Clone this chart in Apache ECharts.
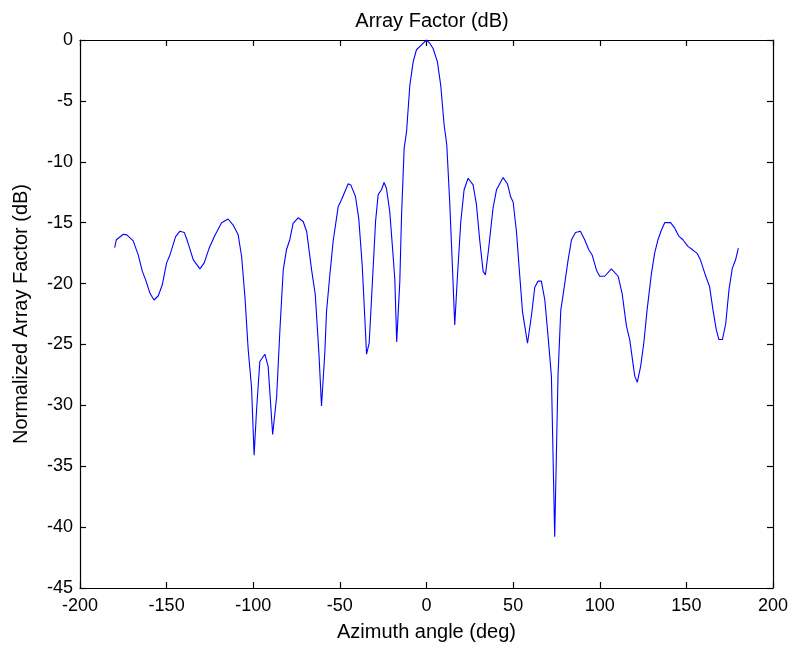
<!DOCTYPE html>
<html>
<head>
<meta charset="utf-8">
<style>
  html, body { margin: 0; padding: 0; background: #fff; }
  #chart { width: 796px; height: 649px; }
</style>
<script src="https://cdn.jsdelivr.net/npm/echarts@6/dist/echarts.min.js"></script>
</head>
<body>
<div id="chart"></div>
<script>
// Azimuth angle (deg) of each sample
const azimuthDeg = [
  -180, -179, -175, -173, -169.3, -166.4, -164, -162.1, -159.6, -157.3,
  -154.8, -152.5, -150, -148.1, -144.8, -142.3, -139.8, -137.9, -134.6, -130.8,
  -128.3, -125.6, -122.3, -118.3, -114.5, -111.6, -108.7, -106.7, -104.8, -102.9,
  -101, -99.5, -98.1, -96.2, -93.3, -91.4, -90, -88.8, -86.5, -84.6,
  -82.7, -80.8, -78.9, -77, -74.1, -71.2, -69.2, -66.3, -64.2, -62.1,
  -60.6, -58.7, -57.7, -55.8, -53.9, -51, -49, -45.2, -43.7, -41,
  -39.1, -37.1, -35.6, -34.6, -33.1, -30.8, -29.4, -27.9, -26, -24.5,
  -23.1, -21.2, -19.6, -18.3, -17.2, -15.4, -14.4, -12.9, -11.5, -9.6,
  -7.7, -5.8, -2.9, 0, 1.9, 3.8, 6.3, 8.2, 10.2, 11.7,
  13.4, 15, 16.3, 17.9, 19.8, 21.7, 24, 26.9, 28.8, 30.8,
  32.7, 34, 35.9, 38.4, 40.4, 44.2, 46.7, 48.6, 50, 51.9,
  53.8, 55.4, 58.3, 60.6, 62.5, 64.4, 66.3, 68.3, 70.2, 72.1,
  74, 75.9, 77.5, 79.8, 81.7, 83.7, 86, 88.8, 91.3, 93.6,
  95.6, 98.1, 100, 102.9, 106.7, 110.6, 112.9, 115.4, 117.3, 120.2,
  121.7, 123.6, 125.5, 127.3, 129.8, 131.7, 133.6, 135.6, 137.5, 140.9,
  143.3, 145.6, 148, 150.9, 153.8, 156.1, 158.1, 160.6, 163.4, 165.4,
  167.3, 168.8, 170.8, 172.7, 174.6, 176.5, 178.4, 180
];

// Normalized array factor (dB) at each azimuth sample
const arrayFactorDb = [
  -17.05, -16.4, -15.95, -16.0, -16.5, -17.65, -19.0, -19.7, -20.8, -21.35,
  -21.0, -20.1, -18.3, -17.65, -16.15, -15.7, -15.8, -16.55, -18.05, -18.8,
  -18.3, -17.15, -16.1, -15.0, -14.7, -15.2, -16.0, -17.8, -21.1, -25.45,
  -28.5, -34.1, -30.4, -26.4, -25.8, -26.8, -29.8, -32.4, -29.3, -23.8,
  -18.9, -17.2, -16.4, -15.05, -14.6, -14.9, -15.7, -18.9, -20.9, -25.7,
  -30.05, -25.7, -22.3, -19.3, -16.55, -13.7, -13.1, -11.8, -11.9, -12.85,
  -14.65, -18.5, -22.85, -25.8, -24.9, -18.75, -14.9, -12.7, -12.3, -11.7,
  -12.2, -14.1, -17.1, -19.6, -24.8, -19.8, -14.4, -8.9, -7.5, -3.7,
  -1.8, -0.8, -0.4, 0, -0.27, -0.7, -1.8, -3.7, -7.0, -8.6,
  -13.3, -18.75, -23.4, -19.3, -14.9, -12.3, -11.35, -11.9, -13.5, -16.55,
  -19.0, -19.3, -17.1, -13.8, -12.3, -11.3, -11.8, -12.9, -13.3, -15.7,
  -19.3, -22.3, -24.9, -22.6, -20.3, -19.8, -19.8, -21.35, -24.4, -27.6,
  -40.8, -27.6, -22.2, -20.0, -18.1, -16.4, -15.8, -15.7, -16.4, -17.2,
  -17.65, -18.9, -19.4, -19.4, -18.8, -19.4, -20.8, -23.5, -24.6, -27.6,
  -28.1, -26.8, -24.8, -22.2, -19.2, -17.5, -16.4, -15.6, -15.0, -15.0,
  -15.45, -16.1, -16.4, -16.95, -17.25, -17.5, -18.05, -19.15, -20.25, -22.2,
  -23.8, -24.6, -24.6, -23.3, -20.5, -18.75, -18.05, -17.1
];

// Axis tick values
const xTicks = [-200, -150, -100, -50, 0, 50, 100, 150, 200];
const yTicks = [-45, -40, -35, -30, -25, -20, -15, -10, -5, 0];

const FONT = '"Liberation Sans", Arial, Helvetica, sans-serif';
const TICK_FS = 18;
const LABEL_FS = 20;

const points = azimuthDeg.map((a, i) => [a, arrayFactorDb[i]]);

const xMin = xTicks[0], xMax = xTicks[xTicks.length - 1], xStep = xTicks[1] - xTicks[0];
const yMin = yTicks[0], yMax = yTicks[yTicks.length - 1], yStep = yTicks[1] - yTicks[0];

const axisLine = { show: true, onZero: false, lineStyle: { color: '#000', width: 1.2 } };
const tick = { show: true, inside: true, length: 6, lineStyle: { color: '#000', width: 1.2 } };

const chart = echarts.init(document.getElementById('chart'), null, { renderer: 'canvas' });
chart.setOption({
  animation: false,
  backgroundColor: '#fff',
  title: {
    text: 'Array Factor (dB)',
    left: 427, top: 6, textAlign: 'center',
    textStyle: { fontFamily: FONT, fontSize: LABEL_FS, fontWeight: 'normal', color: '#000' }
  },
  grid: { left: 80, right: 23, top: 40, bottom: 61, containLabel: false },
  xAxis: [
    {
      type: 'value', min: xMin, max: xMax, interval: xStep, position: 'bottom',
      name: 'Azimuth angle (deg)', nameLocation: 'middle', nameGap: 34,
      nameTextStyle: { fontFamily: FONT, fontSize: LABEL_FS, color: '#000' },
      axisLine, axisTick: tick, splitLine: { show: false },
      axisLabel: { fontFamily: FONT, fontSize: TICK_FS, color: '#000', margin: 9 }
    },
    {
      type: 'value', min: xMin, max: xMax, interval: xStep, position: 'top',
      axisLine, axisTick: tick, splitLine: { show: false }, axisLabel: { show: false }
    }
  ],
  yAxis: [
    {
      type: 'value', min: yMin, max: yMax, interval: yStep, position: 'left',
      name: 'Normalized Array Factor (dB)', nameLocation: 'middle', nameGap: 49,
      nameTextStyle: { fontFamily: FONT, fontSize: LABEL_FS, color: '#000' },
      axisLine, axisTick: tick, splitLine: { show: false },
      axisLabel: { fontFamily: FONT, fontSize: TICK_FS, color: '#000', margin: 7 }
    },
    {
      type: 'value', min: yMin, max: yMax, interval: yStep, position: 'right',
      axisLine, axisTick: tick, splitLine: { show: false }, axisLabel: { show: false }
    }
  ],
  series: [{
    type: 'line',
    data: points,
    xAxisIndex: 0, yAxisIndex: 0,
    showSymbol: false,
    smooth: false,
    lineStyle: { color: '#0000ff', width: 1.1 },
    clip: true
  }]
});
</script>
</body>
</html>
